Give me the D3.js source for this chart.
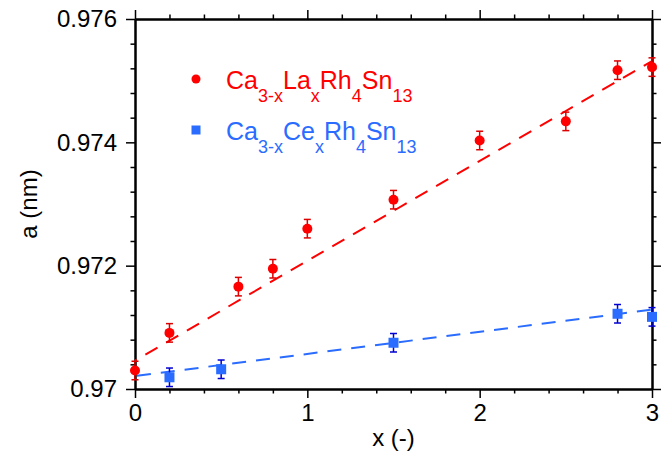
<!DOCTYPE html>
<html>
<head>
<meta charset="utf-8">
<script src="https://cdn.jsdelivr.net/npm/d3@7"></script>
<style>
  body { margin: 0; background: #fff; }
  text { font-family: "Liberation Sans", Arial, sans-serif; }
  .domain { stroke-width: 2px; }
  .tick line { stroke-width: 1.5px; }
</style>
</head>
<body>
<svg class="chart" width="670" height="452"></svg>
<script>
// La-substituted series
const xLa = [0, 0.2, 0.6, 0.8, 1.0, 1.5, 2.0, 2.5, 2.8, 3.0]
const aLa = [0.97030, 0.97091, 0.97166, 0.97195, 0.97260, 0.97307, 0.97403, 0.97434, 0.97517, 0.97522]
const errLa = [0.00015, 0.00015, 0.00015, 0.00015, 0.00015, 0.00015, 0.00015, 0.00015, 0.00015, 0.00015]
// Ce-substituted series
const xCe = [0.2, 0.5, 1.5, 2.8, 3.0]
const aCe = [0.97019, 0.97032, 0.97075, 0.97122, 0.97117]
const errCe = [0.00015, 0.00015, 0.00015, 0.00015, 0.00015]
// linear fits [intercept, slope]
const fitLa = [0.97046, 0.001619]
const fitCe = [0.97021, 0.000359]

const xMajor = [0, 1, 2, 3]
const xMinor = [0.2, 0.4, 0.6, 0.8, 1.2, 1.4, 1.6, 1.8, 2.2, 2.4, 2.6, 2.8]
const yMajor = [0.970, 0.972, 0.974, 0.976]
const yMinor = [0.9704, 0.9708, 0.9712, 0.9716, 0.9724, 0.9728, 0.9732, 0.9736,
                0.9744, 0.9748, 0.9752, 0.9756]

const svg = d3.select('.chart')
const width = +svg.attr('width')
const height = +svg.attr('height')
const margin = {top: 19, right: 18, bottom: 63, left: 135}
const innerWidth = width - margin.left - margin.right
const innerHeight = height - margin.top - margin.bottom

const xScale = d3.scaleLinear().domain([0, 3]).range([0, innerWidth])
const yScale = d3.scaleLinear().domain([0.970, 0.976]).range([innerHeight, 0])

const g = svg.append('g')
  .attr('transform', `translate(${margin.left},${margin.top})`)

const red = '#ff0000'
const redBar = '#dd0000'
const blue = '#2a6cff'
const blueBar = '#0000d0'

function styleAxis(sel, labels) {
  sel.select('.domain').attr('stroke', '#000')
  sel.selectAll('.tick line').attr('stroke', '#000')
  sel.selectAll('.tick text').attr('font-size', 24).attr('fill', '#000')
  if (!labels) sel.selectAll('.tick text').remove()
}

// bottom
g.append('g').attr('transform', `translate(0,${innerHeight})`)
  .call(d3.axisBottom(xScale).tickValues(xMinor).tickSize(4.5).tickSizeOuter(0))
  .call(s => styleAxis(s, false))
g.append('g').attr('transform', `translate(0,${innerHeight})`)
  .call(d3.axisBottom(xScale).tickValues(xMajor).tickSize(9).tickSizeOuter(0).tickPadding(6)
    .tickFormat(d3.format('d')))
  .call(s => styleAxis(s, true))
// top
g.append('g')
  .call(d3.axisTop(xScale).tickValues(xMinor).tickSize(4.5).tickSizeOuter(0))
  .call(s => styleAxis(s, false))
g.append('g')
  .call(d3.axisTop(xScale).tickValues(xMajor).tickSize(9).tickSizeOuter(0))
  .call(s => styleAxis(s, false))
// left
g.append('g')
  .call(d3.axisLeft(yScale).tickValues(yMinor).tickSize(4.5).tickSizeOuter(0))
  .call(s => styleAxis(s, false))
g.append('g')
  .call(d3.axisLeft(yScale).tickValues(yMajor).tickSize(9).tickSizeOuter(0).tickPadding(9)
    .tickFormat(d => d === 0.97 ? '0.97' : d3.format('.3f')(d)))
  .call(s => styleAxis(s, true))
// right
g.append('g').attr('transform', `translate(${innerWidth},0)`)
  .call(d3.axisRight(yScale).tickValues(yMinor).tickSize(4.5).tickSizeOuter(0))
  .call(s => styleAxis(s, false))
g.append('g').attr('transform', `translate(${innerWidth},0)`)
  .call(d3.axisRight(yScale).tickValues(yMajor).tickSize(9).tickSizeOuter(0))
  .call(s => styleAxis(s, false))

// axis titles
svg.append('text')
  .attr('x', margin.left + innerWidth / 2).attr('y', 446)
  .attr('text-anchor', 'middle').attr('font-size', 24)
  .text('x (-)')
svg.append('text')
  .attr('transform', `translate(37,${margin.top + innerHeight / 2}) rotate(-90)`)
  .attr('text-anchor', 'middle').attr('font-size', 24)
  .text('a (nm)')

// fit lines
const line = d3.line().x(d => xScale(d[0])).y(d => yScale(d[1]))
function fitPts(fit) { return [0, 3].map(x => [x, fit[0] + fit[1] * x]) }
g.append('path').datum(fitPts(fitLa)).attr('d', line)
  .attr('fill', 'none').attr('stroke', red).attr('stroke-width', 2)
  .attr('stroke-dasharray', '14,10').attr('stroke-dashoffset', -12)
g.append('path').datum(fitPts(fitCe)).attr('d', line)
  .attr('fill', 'none').attr('stroke', blue).attr('stroke-width', 2)
  .attr('stroke-dasharray', '14,10').attr('stroke-dashoffset', -2)

// error bars
function errorBars(xs, ys, es, color) {
  const data = xs.map((x, i) => ({x, y: ys[i], e: es[i]}))
  const eg = g.append('g').attr('stroke', color).attr('stroke-width', 1.5)
  eg.selectAll('.v').data(data).enter().append('line')
    .attr('x1', d => xScale(d.x)).attr('x2', d => xScale(d.x))
    .attr('y1', d => yScale(d.y - d.e)).attr('y2', d => yScale(d.y + d.e))
  ;[-1, 1].forEach(s => {
    eg.selectAll(null).data(data).enter().append('line')
      .attr('x1', d => xScale(d.x) - 3.5).attr('x2', d => xScale(d.x) + 3.5)
      .attr('y1', d => yScale(d.y + s * d.e)).attr('y2', d => yScale(d.y + s * d.e))
  })
}
errorBars(xLa, aLa, errLa, redBar)
errorBars(xCe, aCe, errCe, blueBar)

// markers
g.append('g').selectAll('circle')
  .data(xLa.map((x, i) => [x, aLa[i]]))
  .enter().append('circle')
  .attr('cx', d => xScale(d[0])).attr('cy', d => yScale(d[1]))
  .attr('r', 5).attr('fill', red)
g.append('g').selectAll('rect')
  .data(xCe.map((x, i) => [x, aCe[i]]))
  .enter().append('rect')
  .attr('x', d => xScale(d[0]) - 5).attr('y', d => yScale(d[1]) - 5)
  .attr('width', 10).attr('height', 10).attr('fill', blue)

// legend
const legend = [
  {color: red, parts: [['Ca', 0], ['3-x', 1], ['La', 0], ['x', 1], ['Rh', 0], ['4', 1], ['Sn', 0], ['13', 1]], shape: 'circle'},
  {color: blue, parts: [['Ca', 0], ['3-x', 1], ['Ce', 0], ['x', 1], ['Rh', 0], ['4', 1], ['Sn', 0], ['13', 1]], shape: 'square'}
]
legend.forEach((item, i) => {
  const cy = 79 + i * 51
  if (item.shape === 'circle') {
    svg.append('circle').attr('cx', 196).attr('cy', cy).attr('r', 4.5).attr('fill', item.color)
  } else {
    svg.append('rect').attr('x', 191.5).attr('y', cy - 4.5).attr('width', 9).attr('height', 9).attr('fill', item.color)
  }
  const t = svg.append('text').attr('x', 226).attr('y', cy + 10)
    .attr('fill', item.color).attr('font-size', 25)
  let prevSub = 0
  item.parts.forEach(([s, sub]) => {
    t.append('tspan')
      .attr('dy', sub === prevSub ? 0 : (sub ? 13 : -13))
      .attr('font-size', sub ? 18 : 25)
      .text(s)
    prevSub = sub
  })
})
</script>
</body>
</html>
